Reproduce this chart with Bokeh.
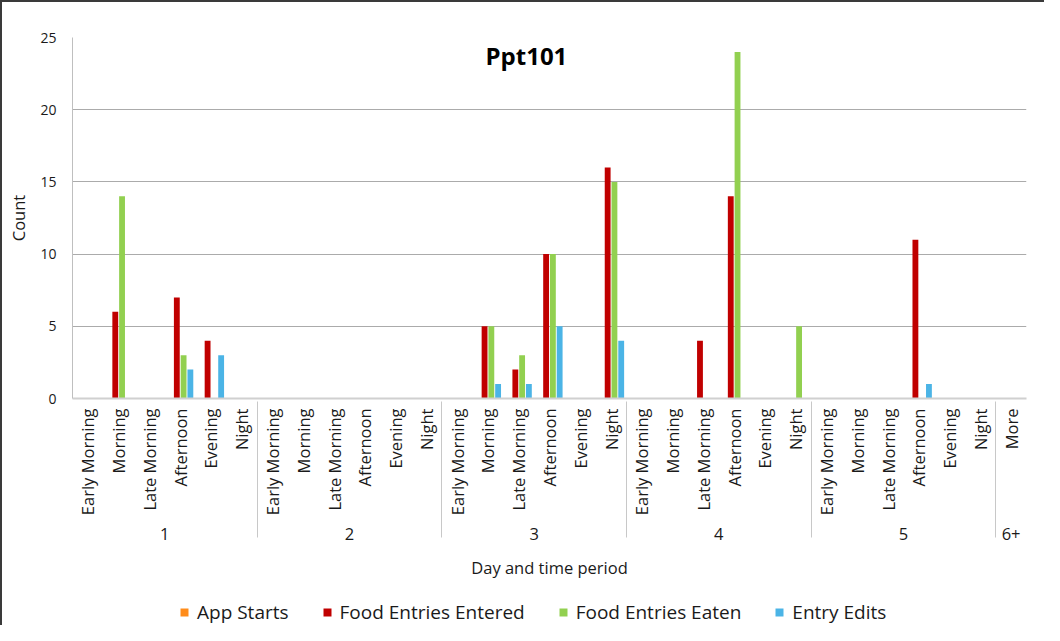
import math
from bokeh.plotting import figure
from bokeh.layouts import column
from bokeh.models import FactorRange, Range1d, ColumnDataSource, Legend, LegendItem, Label
from bokeh.transform import dodge
from bokeh.embed import file_html
from bokeh.resources import INLINE

# ---- data ----
days = ["1", "2", "3", "4", "5"]
periods = ["Early Morning", "Morning", "Late Morning", "Afternoon", "Evening", "Night"]
extra_day = "6+"
extra_period = "More"

series_names = ["App Starts", "Food Entries Entered", "Food Entries Eaten", "Entry Edits"]
app_starts   = [0, 0, 0, 0, 0, 0,  0, 0, 0, 0, 0, 0,  0, 0, 0, 0, 0, 0,  0, 0, 0, 0, 0, 0,  0, 0, 0, 0, 0, 0,  0]
food_entered = [0, 6, 0, 7, 4, 0,  0, 0, 0, 0, 0, 0,  0, 5, 2, 10, 0, 16,  0, 0, 4, 14, 0, 0,  0, 0, 0, 11, 0, 0,  0]
food_eaten   = [0, 14, 0, 3, 0, 0,  0, 0, 0, 0, 0, 0,  0, 5, 3, 10, 0, 15,  0, 0, 0, 24, 0, 5,  0, 0, 0, 0, 0, 0,  0]
entry_edits  = [0, 0, 0, 2, 3, 0,  0, 0, 0, 0, 0, 0,  0, 1, 1, 5, 0, 4,  0, 0, 0, 0, 0, 0,  0, 0, 0, 1, 0, 0,  0]
y_ticks = [0, 5, 10, 15, 20, 25]

colors = ["#FF8C1A", "#C00000", "#92D050", "#4BB4E6"]
FONT = "Open Sans"
TXT = "#1a1a1a"

factors = [(d, pr) for d in days for pr in periods] + [(extra_day, extra_period)]
values = [app_starts, food_entered, food_eaten, entry_edits]

x_range = FactorRange(factors=factors, factor_padding=0, group_padding=0, range_padding=0)

p = figure(width=1042, height=586, x_range=x_range, y_range=Range1d(0, 25),
           output_backend="svg", toolbar_location=None,
           min_border_left=70, min_border_top=35, min_border_right=18, min_border_bottom=190)
p.outline_line_color = None
p.background_fill_color = "white"
p.border_fill_color = "white"

offsets = [-0.33, -0.11, 0.11, 0.33]
sources = []
for name, vals, col, off in zip(series_names, values, colors, offsets):
    src = ColumnDataSource(dict(x=list(factors), top=vals))
    sources.append(src)
    p.vbar(x=dodge("x", off, range=p.x_range), top="top", width=0.19, source=src,
           fill_color=col, line_color=None)

# y axis
p.yaxis.ticker = y_ticks
p.yaxis.axis_label = "Count"
p.yaxis.axis_label_text_font = FONT
p.yaxis.axis_label_text_font_size = "16.5px"
p.yaxis.axis_label_text_font_style = "normal"
p.yaxis.axis_label_text_color = TXT
p.yaxis.axis_label_standoff = 7
p.yaxis.major_label_text_font = FONT
p.yaxis.major_label_text_font_size = "14px"
p.yaxis.major_label_text_color = TXT
p.yaxis.major_label_standoff = 16
p.yaxis.major_tick_line_color = None
p.yaxis.major_tick_out = 0
p.yaxis.major_tick_in = 0
p.yaxis.minor_tick_line_color = None
p.yaxis.axis_line_color = "#BFBFBF"

# x axis (nested categorical)
xa = p.xaxis[0]
xa.axis_label = "Day and time period"
xa.axis_label_text_font = FONT
xa.axis_label_text_font_size = "16.5px"
xa.axis_label_text_font_style = "normal"
xa.axis_label_text_color = TXT
xa.axis_label_standoff = 13
xa.major_label_orientation = math.pi / 2
xa.major_label_text_font = FONT
xa.major_label_text_font_size = "16.5px"
xa.major_label_text_color = TXT
xa.major_label_standoff = 10
xa.group_label_orientation = "horizontal"
xa.group_text_font = FONT
xa.group_text_font_size = "16.5px"
xa.group_text_color = TXT
xa.group_text_font_style = "normal"
xa.major_tick_line_color = None
xa.major_tick_out = 0
xa.major_tick_in = 0
xa.minor_tick_line_color = None
xa.axis_line_color = "#D0D0D0"
xa.axis_line_width = 2
xa.separator_line_color = "#C8C8C8"
xa.separator_line_width = 1

p.ygrid.grid_line_color = "#ABABAB"
p.xgrid.grid_line_color = None

# title inside the plot area
p.add_layout(Label(x=14.75, y=23.75, text="Ppt101", text_align="center", text_baseline="middle",
                   text_font=FONT, text_font_size="24px", text_font_style="bold",
                   text_color="#000000"))

# legend strip below the chart (same series, drawn outside its visible y range as legend proxies)
pl = figure(width=1042, height=37, x_range=x_range, y_range=Range1d(100, 101),
            output_backend="svg", toolbar_location=None,
            x_axis_location=None, y_axis_location=None,
            min_border=0, min_border_left=0, min_border_right=0,
            min_border_top=0, min_border_bottom=0)
pl.grid.visible = False
pl.outline_line_color = None
pl.background_fill_color = "white"
pl.border_fill_color = "white"
items = []
for name, src, col, off in zip(series_names, sources, colors, offsets):
    r = pl.vbar(x=dodge("x", off, range=pl.x_range), top="top", width=0.19, source=src,
                fill_color=col, line_color=None)
    items.append(LegendItem(label=name, renderers=[r]))
legend = Legend(items=items, orientation="horizontal", location=(107, 0),
                label_text_font=FONT, label_text_font_size="19px", label_text_color=TXT,
                glyph_width=10, glyph_height=10, label_standoff=8, spacing=33, padding=2,
                margin=0, label_height=20, border_line_color=None, background_fill_alpha=0)
pl.add_layout(legend, "center")

layout = column(p, pl, spacing=0)
layout.styles = {"border-left": "2px solid #3a3a3a", "border-top": "2px solid #3a3a3a"}

open("out.html", "w").write(file_html(layout, INLINE))
